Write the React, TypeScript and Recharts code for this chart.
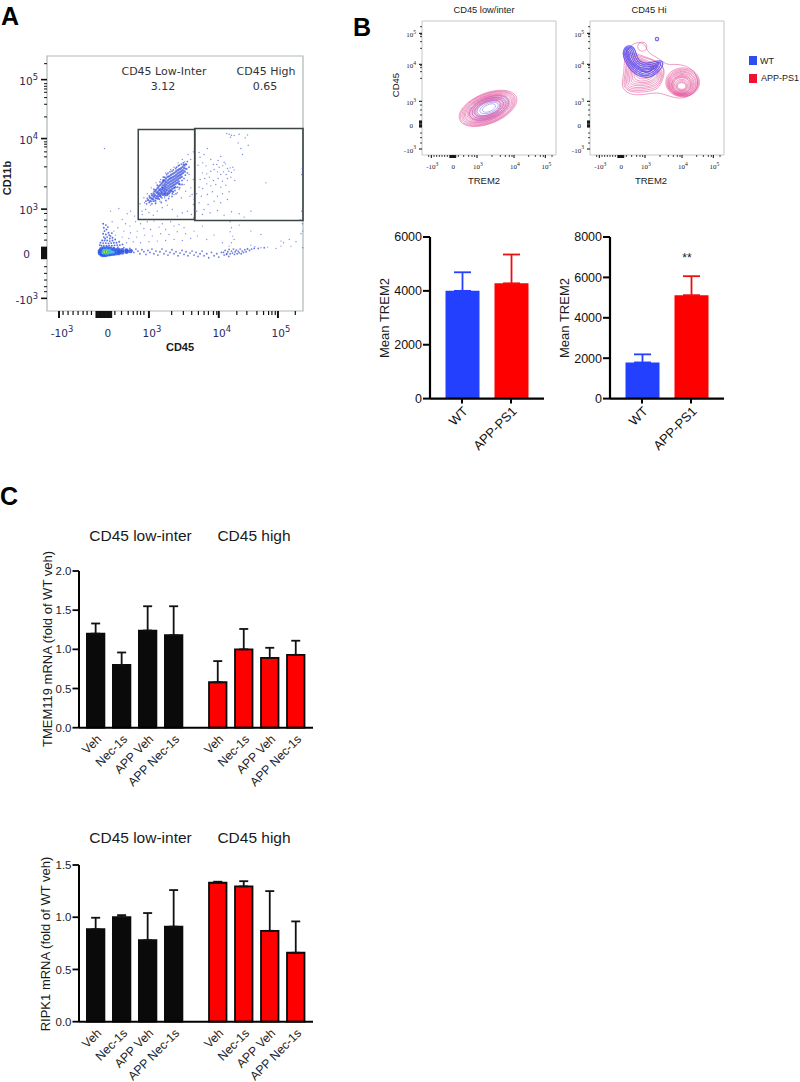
import {
  Bar,
  BarChart,
  ErrorBar,
  ReferenceArea,
  Scatter,
  ScatterChart,
  XAxis,
  YAxis,
} from "recharts";

const SANS = "'Liberation Sans', Arial, sans-serif";
const DEJAVU = "'DejaVu Sans', sans-serif";

// flow plots are kept in channel units, the axis is biexponential so labels are fixed by hand
const gateXTicksMajor = [36, 173, 305, 514, 691];
const gateXLabels = ["-10^3", "0", "10^3", "10^4", "10^5"];
const gateXTicksMinor = [48, 63, 78, 93, 108, 120, 133, 148, 152, 156, 160, 164, 168, 172, 176, 180, 184, 188, 192, 203, 223, 243, 258, 270, 280, 290, 373, 408, 433, 453, 470, 483, 498, 508, 568, 598, 628, 648, 663, 673, 683, 743];
const gateYTicksMajor = [38, 176, 306, 518, 695];
const gateYLabels = ["-10^3", "0", "10^3", "10^4", "10^5"];
const gateYTicksMinor = [58, 73, 93, 113, 133, 158, 161, 164, 167, 170, 173, 179, 182, 185, 188, 191, 213, 233, 253, 273, 293, 373, 433, 463, 478, 493, 501, 508, 583, 621, 641, 657, 667, 675, 683, 743];

const hotRed = [[175, 178]];
const hotYellow = [[173, 178], [177, 178]];
const hotGreen = [[171, 178], [176, 176], [181, 178], [176, 181]];
const hotCyan = [[168, 175], [175, 174], [182, 174], [190, 176], [198, 177], [170, 182], [178, 183], [186, 182]];
const hotBlue = [[158, 174], [163, 170], [168, 168], [175, 168], [183, 170], [190, 171], [198, 172], [206, 173], [215, 174], [225, 176], [238, 178], [158, 180], [162, 186], [170, 188], [180, 189], [190, 187], [200, 185], [212, 184], [225, 183], [238, 182], [250, 180], [170, 178], [185, 178], [200, 178], [215, 178]];

const lowInterCore = [
  [303, 333], [308, 341], [310, 330], [313, 338], [315, 347], [317, 336], [319, 353], [320, 343], [322, 360], [323, 348], [326, 339], [326, 364], [328, 355], [329, 345], [331, 369], [331, 358], [333, 351], [334, 374], [336, 363], [336, 354],
  [338, 347], [339, 378], [339, 366], [341, 359], [342, 352], [343, 383], [344, 371], [345, 364], [345, 356], [347, 388], [347, 349], [348, 377], [349, 369], [350, 361], [351, 353], [352, 392], [352, 382], [353, 374], [354, 366], [355, 358],
  [356, 398], [356, 387], [357, 379], [358, 371], [359, 363], [360, 354], [361, 403], [361, 392], [362, 384], [363, 376], [364, 368], [365, 360], [366, 405], [366, 396], [367, 388], [368, 380], [369, 372], [370, 364], [371, 409], [371, 399],
  [372, 391], [373, 383], [374, 375], [375, 367], [376, 412], [376, 402], [377, 394], [378, 386], [379, 378], [380, 370], [381, 415], [381, 405], [382, 397], [383, 389], [384, 381], [386, 419], [386, 409], [387, 401], [388, 393], [389, 385],
  [391, 423], [391, 413], [392, 405], [393, 397], [394, 389], [396, 426], [396, 416], [397, 408], [398, 400], [401, 429], [401, 419], [402, 411], [403, 403], [406, 433], [406, 423], [407, 415], [409, 439], [411, 429], [412, 419], [415, 441],
  [417, 427], [348, 393], [353, 352], [364, 353], [372, 360], [384, 372], [395, 382], [340, 344], [332, 338], [324, 331], [357, 348], [377, 358],
];
const lowInterHalo = [
  [318, 330], [325, 324], [336, 336], [344, 340], [352, 346], [361, 349], [368, 356], [375, 352], [383, 362], [391, 372], [398, 380], [404, 392], [410, 398], [414, 408], [420, 415], [425, 432], [412, 436], [402, 441], [396, 438], [388, 432],
  [378, 424], [368, 418], [358, 410], [348, 402], [338, 388], [330, 378], [320, 366], [312, 352], [306, 346], [300, 338], [296, 330], [298, 322], [306, 326], [314, 322], [333, 344], [346, 370], [352, 402], [362, 414], [374, 420], [385, 428],
  [393, 436], [408, 445], [420, 449], [404, 380], [397, 370], [386, 352], [374, 344], [364, 338], [356, 332], [342, 326],
];
const lowInterSparse = [
  [285, 290], [295, 305], [278, 322], [290, 340], [284, 300], [305, 295], [318, 288], [330, 300], [345, 310], [360, 318], [375, 305], [390, 285], [405, 295], [420, 300], [432, 290], [438, 320], [428, 345], [415, 360], [402, 340], [390, 355],
  [430, 370], [438, 395], [425, 410], [418, 440], [430, 455], [422, 470], [438, 478], [412, 448], [405, 455], [392, 445], [380, 432], [370, 425], [355, 415], [340, 395], [326, 385], [312, 370], [300, 352], [292, 325], [310, 318], [325, 322],
  [338, 330], [352, 340], [366, 345], [380, 350], [395, 365], [410, 380], [420, 392], [434, 350], [440, 335], [441, 305], [439, 280], [172, 488],
];
const highGateCells = [
  [538, 533], [545, 531], [552, 528], [549, 522], [560, 527], [575, 531], [600, 529], [593, 520], [572, 505], [602, 498], [580, 488], [585, 470], [455, 476], [480, 488], [470, 470], [458, 462], [490, 455], [466, 445], [452, 438], [476, 436],
  [498, 440], [512, 452], [520, 464], [530, 447], [508, 440], [515, 432], [526, 436], [534, 442], [540, 428], [548, 430], [556, 432], [544, 420], [552, 416], [560, 424], [528, 418], [536, 410], [520, 410], [510, 418], [500, 425], [490, 420],
  [478, 412], [465, 415], [458, 395], [472, 398], [486, 402], [498, 392], [512, 398], [525, 390], [540, 398], [550, 402], [562, 392], [535, 378], [520, 372], [505, 380], [490, 376], [478, 382], [466, 368], [455, 372], [448, 352], [462, 345],
  [480, 350], [495, 358], [510, 345], [525, 352], [545, 358], [540, 335], [520, 325], [500, 330], [482, 320], [470, 305], [455, 325], [448, 300], [465, 290], [488, 295], [510, 302], [530, 288], [552, 298], [575, 292], [590, 282], [610, 300],
  [655, 385], [764, 428], [762, 410], [762, 300], [758, 274], [764, 262], [760, 232],
];
const diffuseCells = [
  [190, 300], [215, 308], [195, 268], [225, 275], [240, 292], [250, 300], [262, 285], [235, 262], [248, 255], [265, 268], [280, 262], [300, 268], [320, 270], [345, 262], [370, 268], [395, 260], [410, 250], [380, 255], [355, 245], [335, 252],
  [310, 245], [290, 248], [270, 240], [250, 235], [230, 240], [212, 250], [200, 240], [205, 228], [225, 222], [245, 218], [268, 222], [292, 228], [315, 225], [340, 232], [365, 230], [390, 238], [415, 232], [440, 240], [465, 255], [450, 225],
  [430, 218], [405, 212], [380, 215], [355, 212], [330, 210], [305, 208], [280, 205], [258, 208], [238, 205], [478, 215], [500, 228], [525, 205], [548, 268], [552, 250], [548, 238], [556, 225], [560, 215], [552, 205], [545, 195], [575, 258],
  [610, 240], [640, 230], [700, 210], [708, 205], [725, 215], [745, 208], [730, 195], [765, 240], [765, 190], [700, 195], [685, 188], [660, 192], [640, 190], [622, 193], [610, 198], [600, 188],
];
const plumeCells = [
  [172, 240], [178, 245], [168, 232], [176, 230], [184, 235], [190, 225], [170, 222], [180, 222], [188, 218], [196, 220], [165, 212], [172, 212], [180, 212], [188, 210], [196, 212], [204, 215], [168, 204], [176, 204], [184, 203], [192, 204],
  [200, 205], [208, 205], [216, 208], [163, 196], [170, 196], [178, 196], [186, 196], [194, 196], [202, 197], [210, 198], [218, 198], [226, 200], [170, 250], [176, 258], [168, 262], [182, 252], [160, 205], [158, 198], [174, 218], [186, 228], [194, 234],
];
const armCells = [
  [200, 190], [206, 184], [212, 192], [218, 186], [224, 180], [230, 190], [236, 184], [242, 178], [248, 188], [254, 182], [260, 176], [266, 186], [272, 180], [278, 172], [284, 184], [290, 178], [296, 170], [302, 182], [308, 176], [314, 186],
  [320, 172], [326, 180], [332, 168], [338, 178], [344, 186], [350, 172], [356, 180], [362, 168], [368, 176], [374, 184], [380, 172], [386, 178], [392, 166], [398, 174], [404, 182], [410, 170], [416, 178], [422, 166], [428, 174], [434, 180],
  [440, 168], [446, 176], [452, 164], [458, 172], [464, 180], [470, 166], [478, 172], [484, 160], [492, 176], [500, 166], [508, 172], [514, 162], [522, 176], [530, 168], [538, 172], [544, 164], [528, 176], [533, 182], [537, 170], [541, 178],
  [545, 185], [548, 172], [552, 180], [555, 174], [558, 186], [561, 170], [563, 178], [566, 183], [569, 172], [572, 180], [575, 175], [578, 186], [581, 172], [584, 180], [588, 176], [592, 184], [596, 178], [600, 186], [606, 182], [612, 186],
  [620, 188], [632, 188], [650, 190],
];

const trem2XTicksMajor = [28, 91, 165, 276, 370];
const trem2XLabels = ["-10^3", "0", "10^3", "10^4", "10^5"];
const trem2XTicksMinor = [20, 36, 44, 52, 60, 68, 76, 84, 85, 87, 89, 93, 95, 97, 99, 101, 109, 125, 140, 150, 158, 210, 235, 250, 262, 270, 320, 340, 355, 364, 390];
const trem2YTicksMajor = [18, 93, 161, 272, 365];
const trem2YLabels = ["-10^3", "0", "10^3", "10^4", "10^5"];
const trem2YTicksMinor = [36, 52, 66, 84, 86, 88, 90, 96, 98, 100, 102, 120, 135, 150, 230, 250, 262, 268, 320, 340, 355, 361, 385];

const lowRedRings = [
  [[292, 178], [251, 200], [179, 187], [118, 146], [104, 102], [145, 80], [217, 93], [278, 134]],
  [[287, 176], [248, 197], [180, 185], [121, 146], [108, 103], [147, 82], [216, 95], [274, 134]],
  [[283, 175], [246, 195], [181, 183], [125, 146], [113, 105], [150, 85], [215, 97], [271, 134]],
  [[279, 173], [243, 192], [182, 180], [129, 145], [117, 107], [152, 88], [214, 99], [267, 134]],
  [[275, 171], [241, 189], [183, 178], [133, 145], [121, 109], [155, 91], [213, 102], [263, 135]],
  [[270, 169], [238, 186], [183, 176], [136, 145], [125, 110], [157, 93], [212, 104], [259, 135]],
  [[266, 168], [236, 184], [184, 174], [140, 145], [130, 112], [160, 96], [212, 106], [256, 135]],
  [[262, 166], [234, 181], [185, 172], [143, 144], [134, 114], [162, 99], [211, 108], [252, 135]],
  [[258, 164], [232, 178], [186, 170], [147, 144], [138, 116], [164, 102], [210, 110], [249, 136]],
  [[253, 162], [229, 175], [187, 168], [150, 143], [142, 117], [166, 104], [209, 112], [245, 136]],
  [[249, 161], [227, 173], [188, 166], [154, 143], [147, 119], [169, 107], [208, 114], [242, 137]],
  [[245, 159], [224, 170], [188, 163], [158, 143], [151, 121], [171, 110], [207, 116], [238, 137]],
  [[241, 157], [222, 167], [189, 161], [162, 143], [155, 123], [174, 113], [207, 119], [234, 137]],
  [[236, 155], [219, 164], [190, 159], [165, 142], [159, 124], [176, 115], [206, 121], [230, 137]],
];
const lowBlueRings = [
  [[265, 167], [237, 182], [188, 173], [147, 145], [137, 115], [165, 100], [214, 109], [255, 137]],
  [[256, 163], [232, 176], [190, 169], [154, 145], [146, 119], [170, 106], [212, 113], [248, 137]],
  [[248, 160], [227, 171], [192, 164], [161, 144], [154, 122], [175, 111], [210, 118], [241, 138]],
  [[239, 157], [223, 166], [193, 160], [168, 144], [163, 125], [179, 116], [209, 122], [234, 138]],
  [[231, 153], [218, 160], [195, 156], [176, 143], [171, 129], [184, 122], [207, 126], [226, 139]],
  [[222, 150], [213, 155], [197, 152], [183, 142], [180, 132], [189, 127], [205, 130], [219, 140]],
];
const hiRedRings = [
  [[91, 203], [104, 250], [101, 285], [114, 323], [139, 340], [167, 335], [172, 305], [209, 290], [229, 268], [264, 275], [309, 260], [329, 220], [314, 185], [279, 167], [239, 175], [204, 190], [159, 180], [119, 180]],
  [[172, 325], [168, 336], [157, 340], [146, 336], [142, 325], [146, 314], [157, 310], [168, 314]],
  [[96, 205], [108, 250], [108, 290], [120, 310], [150, 300], [172, 292], [205, 280], [228, 258], [215, 215], [200, 195], [160, 188], [122, 188]],
  [[100, 207], [111, 250], [111, 287], [125, 305], [155, 294], [186, 286], [212, 272], [224, 255], [212, 218], [198, 200], [160, 193], [123, 192]],
  [[105, 210], [115, 250], [115, 285], [130, 300], [160, 288], [200, 272], [220, 252], [210, 220], [195, 205], [160, 198], [125, 197]],
  [[110, 214], [118, 250], [119, 282], [135, 294], [162, 284], [197, 268], [216, 250], [206, 222], [190, 208], [157, 202], [127, 202]],
  [[115, 218], [122, 250], [124, 280], [140, 288], [165, 280], [195, 265], [212, 248], [203, 225], [185, 212], [155, 207], [130, 208]],
  [[120, 222], [126, 250], [128, 276], [145, 283], [170, 275], [198, 260], [208, 245], [197, 225], [175, 214], [147, 212], [134, 213]],
  [[125, 225], [130, 250], [132, 272], [150, 278], [175, 270], [200, 255], [204, 242], [190, 225], [165, 216], [140, 218]],
  [[130, 230], [135, 254], [142, 268], [165, 270], [188, 262], [200, 248], [185, 228], [160, 221], [145, 222]],
  [[135, 235], [140, 258], [155, 265], [180, 258], [195, 245], [180, 232], [155, 226]],
  [[145, 240], [150, 252], [170, 252], [185, 244], [165, 236]],
  [[334, 218], [318, 252], [278, 266], [238, 252], [222, 218], [238, 184], [278, 170], [318, 184]],
  [[331, 217], [315, 249], [278, 262], [241, 249], [225, 217], [241, 185], [278, 172], [315, 185]],
  [[328, 216], [313, 246], [278, 259], [243, 246], [228, 216], [243, 186], [278, 173], [313, 186]],
  [[324, 215], [310, 243], [277, 255], [244, 243], [230, 215], [244, 187], [277, 175], [310, 187]],
  [[321, 214], [308, 241], [277, 252], [246, 241], [233, 214], [246, 187], [277, 176], [308, 187]],
  [[317, 213], [305, 238], [276, 248], [247, 238], [235, 213], [247, 188], [276, 178], [305, 188]],
  [[314, 212], [303, 235], [276, 245], [249, 235], [238, 212], [249, 189], [276, 179], [303, 189]],
  [[311, 211], [300, 233], [276, 241], [252, 233], [241, 211], [252, 189], [276, 181], [300, 189]],
  [[308, 211], [298, 231], [275, 239], [252, 231], [242, 211], [252, 191], [275, 183], [298, 191]],
  [[305, 210], [296, 229], [275, 236], [254, 229], [245, 210], [254, 191], [275, 184], [296, 191]],
  [[303, 210], [295, 227], [275, 234], [255, 227], [247, 210], [255, 193], [275, 186], [295, 193]],
  [[299, 209], [292, 223], [275, 229], [258, 223], [251, 209], [258, 195], [275, 189], [292, 195]],
  [[295, 208], [289, 220], [275, 225], [261, 220], [255, 208], [261, 196], [275, 191], [289, 196]],
  [[292, 207], [287, 217], [275, 221], [263, 217], [258, 207], [263, 197], [275, 193], [287, 197]],
  [[289, 207], [285, 215], [275, 218], [265, 215], [261, 207], [265, 199], [275, 196], [285, 199]],
];
const hiBlueRings = [
  [[99, 315], [114, 332], [137, 320], [139, 290], [164, 270], [204, 285], [224, 280], [209, 250], [174, 227], [134, 240], [111, 270], [99, 295]],
  [[103, 314], [114, 327], [132, 318], [134, 287], [163, 264], [204, 279], [216, 279], [205, 254], [173, 232], [137, 245], [115, 272], [103, 296]],
  [[107, 313], [114, 322], [127, 316], [129, 284], [162, 258], [204, 273], [208, 277], [201, 258], [172, 237], [140, 250], [119, 274], [107, 297]],
  [[110, 312], [114, 318], [122, 314], [124, 282], [161, 252], [198, 268], [204, 272], [197, 262], [171, 243], [143, 255], [122, 276], [110, 298]],
  [[113, 310], [116, 312], [118, 306], [118, 282], [160, 248], [190, 262], [192, 262], [180, 252], [165, 247], [145, 260], [124, 280], [113, 300]],
  [[206, 348], [205, 352], [201, 353], [197, 352], [196, 348], [197, 344], [201, 343], [205, 344]],
];

const trem2Categories = ["WT", "APP-PS1"];
const trem2LowValues = [4000, 4280];
const trem2LowErrors = [690, 1070];
const trem2HiValues = [1790, 5120];
const trem2HiErrors = [400, 940];

const treatments = ["Veh", "Nec-1s", "APP Veh", "APP Nec-1s"];
const tmemLowValues = [1.2, 0.8, 1.24, 1.18];
const tmemLowErrors = [0.13, 0.16, 0.31, 0.37];
const tmemHighValues = [0.58, 1.0, 0.89, 0.93];
const tmemHighErrors = [0.27, 0.26, 0.13, 0.18];
const ripkLowValues = [0.885, 1.0, 0.78, 0.91];
const ripkLowErrors = [0.11, 0.02, 0.26, 0.35];
const ripkHighValues = [1.33, 1.295, 0.87, 0.66];
const ripkHighErrors = [0.01, 0.05, 0.38, 0.3];

const toPoints = (list: number[][]) => list.map(([x, y]) => ({ x, y }));
const noDot = () => <g />;
const dot = (r: number, fill: string, opacity = 1) => (p: any) => (
  <circle cx={p.cx} cy={p.cy} r={r} fill={fill} fillOpacity={opacity} />
);

function Txt({ x, y, size, children, bold, rotate, font, color }: any) {
  return (
    <div
      style={{
        position: "absolute",
        left: x,
        top: y,
        transform: `translate(-50%, -50%) rotate(${rotate || 0}deg)`,
        fontFamily: font || SANS,
        fontSize: size,
        fontWeight: bold ? "bold" : "normal",
        color: color || "#1a1a1a",
        whiteSpace: "nowrap",
      }}
    >
      {children}
    </div>
  );
}

// tick with long/short marks and 10^n labels, the block around zero is drawn solid
const flowTick =
  (side: "x" | "y", majors: number[], labels: string[], cfg: any) => (p: any) => {
    const v = p.payload.value;
    const idx = majors.indexOf(v);
    const isMajor = idx >= 0;
    const inBlock = v >= cfg.block[0] && v <= cfg.block[1];
    const len = isMajor || inBlock ? cfg.major : cfg.minor;
    const width = isMajor || inBlock ? cfg.heavy : cfg.light;
    const [base, sup] = isMajor ? labels[idx].split("^") : ["", ""];
    const textProps = { fontSize: cfg.font, fontFamily: cfg.family, fill: cfg.color };
    if (side === "x") {
      return (
        <g>
          <line x1={p.x} x2={p.x} y1={p.y} y2={p.y + len} stroke="#111" strokeWidth={width} />
          {isMajor && (
            <text x={p.x + cfg.shift} y={p.y + cfg.gap} textAnchor="middle" {...textProps}>
              {base}
              {sup && <tspan dy={-cfg.font * 0.45} fontSize={cfg.font * 0.8}>{sup}</tspan>}
            </text>
          )}
        </g>
      );
    }
    return (
      <g>
        <line x1={p.x - len} x2={p.x} y1={p.y} y2={p.y} stroke="#111" strokeWidth={width} />
        {isMajor && (
          <text x={p.x - (sup ? cfg.gap : cfg.zeroGap)} y={p.y + cfg.font * 0.5} textAnchor="end" {...textProps}>
            {base}
            {sup && <tspan dy={-cfg.font * 0.45} fontSize={cfg.font * 0.8}>{sup}</tspan>}
          </text>
        )}
      </g>
    );
  };

const gateXCfg = { major: 7, minor: 4, heavy: 2, light: 1.2, font: 10.5, family: DEJAVU, color: "#2a2a5a", gap: 26, shift: 3, block: [148, 192] };
const gateYCfg = { major: 6, minor: 3, heavy: 1.6, light: 1, font: 10.5, family: DEJAVU, color: "#2a2a5a", gap: 9, zeroGap: 17, block: [158, 191] };
const trem2XCfg = { major: 3, minor: 2, heavy: 1.1, light: 0.8, font: 7, family: "'Liberation Serif', serif", color: "#222", gap: 14, shift: 1, block: [84, 101] };
const trem2YCfg = { major: 3, minor: 2, heavy: 1.1, light: 0.8, font: 7, family: "'Liberation Serif', serif", color: "#222", gap: 6, zeroGap: 9, block: [84, 102] };

function GatePlot() {
  const layers: [number[][], number, string, number][] = [
    [armCells, 0.9, "#3c50d6", 0.75],
    [diffuseCells, 0.7, "#4658d8", 0.65],
    [highGateCells, 0.7, "#4658d8", 0.7],
    [lowInterSparse, 0.7, "#4658d8", 0.7],
    [lowInterHalo, 0.9, "#3a50dc", 0.75],
    [lowInterCore, 1.2, "#2f48dc", 0.72],
    [plumeCells, 0.95, "#2f48dc", 0.8],
    [hotBlue, 2.2, "#2f55e6", 0.85],
    [hotCyan, 1.7, "#35c4e4", 1],
    [hotGreen, 1.5, "#4fd060", 1],
    [hotYellow, 1, "#e8e040", 1],
    [hotRed, 0.7, "#d83020", 1],
  ];
  return (
    <div style={{ position: "absolute", left: 0, top: 51 }}>
      <ScatterChart width={308} height={300} margin={{ top: 5, right: 5, bottom: 0, left: 0 }}>
        <XAxis
          type="number"
          dataKey="x"
          domain={[0, 766]}
          ticks={[...gateXTicksMajor, ...gateXTicksMinor].sort((a, b) => a - b)}
          interval={0}
          height={40}
          tickSize={0}
          tickMargin={0}
          axisLine={false}
          tick={flowTick("x", gateXTicksMajor, gateXLabels, gateXCfg)}
        />
        <YAxis
          type="number"
          dataKey="y"
          domain={[0, 766]}
          ticks={[...gateYTicksMajor, ...gateYTicksMinor].sort((a, b) => a - b)}
          interval={0}
          width={47}
          tickSize={0}
          tickMargin={0}
          axisLine={false}
          tick={flowTick("y", gateYTicksMajor, gateYLabels, gateYCfg)}
        />
        <ReferenceArea x1={0} x2={766} y1={0} y2={766} fill="none" stroke="#aeb8b8" strokeWidth={1.2} />
        {layers.map(([cells, r, fill, op], i) => (
          <Scatter key={i} data={toPoints(cells)} shape={dot(r, fill, op)} isAnimationActive={false} />
        ))}
        <ReferenceArea x1={273} x2={442} y1={275} y2={545} fill="none" stroke="#3c4444" strokeWidth={1.5} />
        <ReferenceArea x1={442} x2={766} y1={272} y2={548} fill="none" stroke="#3c4444" strokeWidth={1.6} />
      </ScatterChart>
    </div>
  );
}

function ContourPlot({ left, redRings, blueRings, blueWidth, redFirst }: any) {
  const red = redRings.map((ring: number[][], i: number) => (
    <Scatter
      key={`red-${i}`}
      data={toPoints(ring)}
      line={{ stroke: "#e0408e", strokeWidth: 0.6, strokeOpacity: 0.85, fill: "none" }}
      lineType="joint"
      lineJointType="basisClosed"
      shape={noDot}
      isAnimationActive={false}
    />
  ));
  const blue = blueRings.map((ring: number[][], i: number) => (
    <Scatter
      key={`blue-${i}`}
      data={toPoints(ring)}
      line={{ stroke: "#5a46e8", strokeWidth: blueWidth, strokeOpacity: 0.8, fill: "none" }}
      lineType="joint"
      lineJointType="basisClosed"
      shape={noDot}
      isAnimationActive={false}
    />
  ));
  return (
    <div style={{ position: "absolute", left: left - 30, top: 16 }}>
      <ScatterChart width={169} height={164} margin={{ top: 5, right: 5, bottom: 0, left: 0 }}>
        <XAxis
          type="number"
          dataKey="x"
          domain={[0, 402]}
          ticks={[...trem2XTicksMajor, ...trem2XTicksMinor].sort((a, b) => a - b)}
          interval={0}
          height={25}
          tickSize={0}
          tickMargin={0}
          axisLine={false}
          tick={flowTick("x", trem2XTicksMajor, trem2XLabels, trem2XCfg)}
        />
        <YAxis
          type="number"
          dataKey="y"
          domain={[0, 402]}
          ticks={[...trem2YTicksMajor, ...trem2YTicksMinor].sort((a, b) => a - b)}
          interval={0}
          width={30}
          tickSize={0}
          tickMargin={0}
          axisLine={false}
          tick={flowTick("y", trem2YTicksMajor, trem2YLabels, trem2YCfg)}
        />
        <ReferenceArea x1={0} x2={402} y1={0} y2={402} fill="none" stroke="#c4c8c8" strokeWidth={1} />
        {redFirst ? red : blue}
        {redFirst ? blue : red}
      </ScatterChart>
    </div>
  );
}

function Trem2Bars({ left, max, ticks, values, errors }: any) {
  const rows = trem2Categories.map((name, i) => ({
    name,
    wt: i === 0 ? values[i] : undefined,
    app: i === 1 ? values[i] : undefined,
    wtErr: i === 0 ? [0, errors[i]] : undefined,
    appErr: i === 1 ? [0, errors[i]] : undefined,
  }));
  return (
    <div style={{ position: "absolute", left: left - 60, top: 227 }}>
      <BarChart width={176} height={243} data={rows} margin={{ top: 10, right: 2, bottom: 0, left: 0 }} barSize={34}>
        <XAxis
          dataKey="name"
          interval={0}
          padding={{ left: 7.5, right: 8.5 }}
          height={71.4}
          tickSize={5}
          tickLine={{ stroke: "#000", strokeWidth: 2 }}
          axisLine={{ stroke: "#000", strokeWidth: 2.2 }}
          angle={-45}
          textAnchor="end"
          tick={{ fontSize: 13, fontFamily: SANS, fill: "#111" }}
        />
        <YAxis
          domain={[0, max]}
          ticks={ticks}
          interval={0}
          width={60}
          tickSize={7}
          tickMargin={1}
          tickLine={{ stroke: "#000", strokeWidth: 2 }}
          axisLine={{ stroke: "#000", strokeWidth: 2.2 }}
          tick={{ fontSize: 12.5, fontFamily: SANS, fill: "#111" }}
        />
        <Bar dataKey="wt" stackId="s" fill="#2340ff" isAnimationActive={false}>
          <ErrorBar dataKey="wtErr" direction="y" width={8.5} stroke="#2340ff" strokeWidth={1.8} />
        </Bar>
        <Bar dataKey="app" stackId="s" fill="#ff0000" isAnimationActive={false}>
          <ErrorBar dataKey="appErr" direction="y" width={8.5} stroke="#e81010" strokeWidth={1.8} />
        </Bar>
      </BarChart>
    </div>
  );
}

function ExprBars({ top, max, ticks, values, errors, fill, first }: any) {
  const rows = treatments.map((name, i) => ({ name, value: values[i], err: [0, errors[i]] }));
  const yWidth = first ? 79 : 0;
  return (
    <div style={{ position: "absolute", left: first ? 0 : 196, top: top - 10 }}>
      <BarChart
        width={yWidth + 117 + (first ? 0 : 4)}
        height={10 + 156.7 + 72}
        data={rows}
        margin={{ top: 10, right: first ? 0 : 4, bottom: 0, left: 0 }}
        barSize={17.5}
      >
        <XAxis
          dataKey="name"
          interval={0}
          padding={first ? { left: 3.9, right: 9.1 } : { left: 9, right: 4 }}
          height={72}
          tickSize={0}
          tickMargin={6}
          tickLine={false}
          axisLine={{ stroke: "#000", strokeWidth: 2 }}
          angle={-45}
          textAnchor="end"
          tick={{ fontSize: 12.3, fontFamily: SANS, fill: "#222" }}
        />
        <YAxis
          hide={!first}
          domain={[0, max]}
          ticks={ticks}
          interval={0}
          width={yWidth}
          tickSize={6.5}
          tickMargin={1}
          tickFormatter={(v: number) => v.toFixed(1)}
          tickLine={{ stroke: "#000", strokeWidth: 1.8 }}
          axisLine={{ stroke: "#000", strokeWidth: 2 }}
          tick={{ fontSize: 11.5, fontFamily: SANS, fill: "#222" }}
        />
        <Bar dataKey="value" fill={fill} stroke="#0a0a0a" strokeWidth={1.8} isAnimationActive={false}>
          <ErrorBar dataKey="err" direction="y" width={4.5} stroke="#111" strokeWidth={1.8} />
        </Bar>
      </BarChart>
    </div>
  );
}

export default function App() {
  return (
    <div style={{ position: "absolute", left: 0, top: 0, width: 800, height: 1082, background: "#fff", overflow: "hidden" }}>
      <Txt x={10} y={16} size={25} bold color="#000">A</Txt>
      <Txt x={362} y={27} size={25} bold color="#000">B</Txt>
      <Txt x={9} y={496} size={25} bold color="#000">C</Txt>

      <GatePlot />
      <Txt x={164} y={71} size={11} font={DEJAVU} color="#333">CD45 Low-Inter</Txt>
      <Txt x={163} y={86} size={11} font={DEJAVU} color="#333">3.12</Txt>
      <Txt x={266} y={71} size={11} font={DEJAVU} color="#333">CD45 High</Txt>
      <Txt x={265} y={86} size={11} font={DEJAVU} color="#333">0.65</Txt>
      <Txt x={7} y={178} size={11} bold rotate={-90}>CD11b</Txt>
      <Txt x={180} y={347} size={11} bold>CD45</Txt>

      <ContourPlot left={422} redRings={lowRedRings} blueRings={lowBlueRings} blueWidth={0.55} />
      <ContourPlot left={590} redRings={hiRedRings} blueRings={hiBlueRings} blueWidth={1.3} redFirst />
      <Txt x={484} y={10} size={9.3}>CD45 low/inter</Txt>
      <Txt x={649} y={10} size={9.3}>CD45 Hi</Txt>
      <Txt x={395} y={85} size={9.5} rotate={-90}>CD45</Txt>
      <Txt x={484} y={180} size={9.5}>TREM2</Txt>
      <Txt x={651} y={180} size={9.5}>TREM2</Txt>
      <div style={{ position: "absolute", left: 749, top: 56, width: 8, height: 9, background: "#2f4df0" }} />
      <div style={{ position: "absolute", left: 749, top: 74, width: 8, height: 9, background: "#f01030" }} />
      <Txt x={767} y={61} size={9}>WT</Txt>
      <Txt x={780} y={78} size={9}>APP-PS1</Txt>

      <Trem2Bars left={430} max={6000} ticks={[0, 2000, 4000, 6000]} values={trem2LowValues} errors={trem2LowErrors} />
      <Trem2Bars left={610} max={8000} ticks={[0, 2000, 4000, 6000, 8000]} values={trem2HiValues} errors={trem2HiErrors} />
      <Txt x={384} y={318} size={13} rotate={-90}>Mean TREM2</Txt>
      <Txt x={564} y={318} size={13} rotate={-90}>Mean TREM2</Txt>
      <Txt x={687} y={258} size={12}>**</Txt>

      <Txt x={140.5} y={536} size={15.5}>CD45 low-inter</Txt>
      <Txt x={254} y={536} size={15.5}>CD45 high</Txt>
      <ExprBars first top={571} max={2} ticks={[0, 0.5, 1, 1.5, 2]} values={tmemLowValues} errors={tmemLowErrors} fill="#0a0a0a" />
      <ExprBars top={571} max={2} ticks={[0, 0.5, 1, 1.5, 2]} values={tmemHighValues} errors={tmemHighErrors} fill="#ff0000" />
      <Txt x={47} y={649} size={13} rotate={-90}>TMEM119 mRNA (fold of WT veh)</Txt>

      <Txt x={140.5} y={838} size={15.5}>CD45 low-inter</Txt>
      <Txt x={254} y={838} size={15.5}>CD45 high</Txt>
      <ExprBars first top={865.3} max={1.5} ticks={[0, 0.5, 1, 1.5]} values={ripkLowValues} errors={ripkLowErrors} fill="#0a0a0a" />
      <ExprBars top={865.3} max={1.5} ticks={[0, 0.5, 1, 1.5]} values={ripkHighValues} errors={ripkHighErrors} fill="#ff0000" />
      <Txt x={45} y={944} size={13} rotate={-90}>RIPK1 mRNA (fold of WT veh)</Txt>
    </div>
  );
}
